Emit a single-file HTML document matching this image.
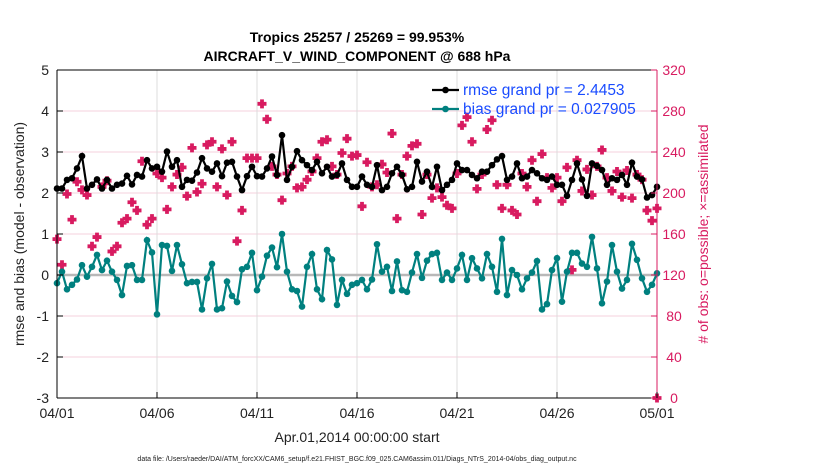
<!DOCTYPE html>
<html><head><meta charset="utf-8"><style>
body{margin:0;background:#fff;width:830px;height:470px;overflow:hidden;font-family:"Liberation Sans",sans-serif}
</style></head><body>
<svg id="chart" width="830" height="470" xmlns="http://www.w3.org/2000/svg" font-family="Liberation Sans, sans-serif"></svg>
<script>
const xTickLabels=["04/01","04/06","04/11","04/16","04/21","04/26","05/01"];
const yLeftTicks=[5,4,3,2,1,0,-1,-2,-3];
const yRightTicks=[0,40,80,120,160,200,240,280,320];
const rmse=[2.11,2.11,2.32,2.36,2.60,2.90,2.11,2.20,2.33,2.11,2.32,2.11,2.20,2.23,2.42,2.21,2.44,2.40,2.80,2.60,2.64,2.52,3.01,2.64,2.80,2.15,2.32,2.30,2.50,2.85,2.60,2.52,2.72,2.41,2.74,2.76,2.40,2.07,2.41,2.64,2.41,2.40,2.60,2.89,2.44,3.41,2.32,2.64,3.02,2.80,2.68,2.56,2.76,2.48,2.64,2.40,2.44,2.72,2.32,2.15,
2.15,2.40,2.20,2.15,2.68,2.07,2.15,2.48,2.64,2.44,2.09,2.15,2.76,2.28,2.52,2.15,2.64,2.07,2.20,2.32,2.72,2.56,2.56,2.44,2.36,2.52,2.52,2.68,2.82,2.90,2.32,2.40,2.72,2.36,2.40,2.56,2.48,2.36,2.32,2.40,2.20,2.20,1.93,2.32,2.72,2.33,1.93,2.72,2.66,2.56,2.20,2.36,2.32,2.44,2.20,2.74,2.40,2.33,1.89,1.95,2.15];
const bias=[-0.20,0.08,-0.35,-0.24,-0.11,0.24,-0.04,0.20,0.49,0.12,0.35,0.08,-0.12,-0.49,0.22,0.24,-0.12,-0.12,0.85,0.55,-0.96,0.73,0.71,0.10,0.73,0.26,-0.20,-0.17,-0.17,-0.84,-0.08,0.27,-0.84,-0.81,-0.16,-0.51,-0.66,0.14,0.20,0.54,-0.37,-0.04,0.47,0.67,0.19,1.00,0.08,-0.35,-0.39,-0.77,0.20,0.51,-0.35,-0.59,0.61,0.38,-0.73,-0.12,-0.46,-0.24,
-0.20,-0.12,-0.35,-0.11,0.75,0.08,0.20,-0.39,0.33,-0.37,-0.41,0.06,0.51,-0.07,0.35,0.51,0.54,-0.12,0.06,-0.12,0.16,0.49,-0.12,0.41,0.16,-0.08,0.51,0.20,-0.41,0.88,-0.49,0.12,0.00,-0.35,-0.08,0.06,0.34,-0.84,-0.71,0.12,0.41,-0.65,0.08,0.54,0.54,0.28,0.20,0.93,0.16,-0.69,-0.16,0.73,0.08,-0.33,-0.12,0.76,0.37,-0.08,-0.41,-0.24,0.04];
const obsCount=[155,130,199,174,211,203,198,148,157,206,212,143,148,171,175,191,183,231,169,175,219,215,184,206,218,225,197,244,201,209,247,250,206,243,198,250,153,183,234,234,234,287,272,226,218,193,219,226,205,206,213,221,234,250,252,226,218,239,253,236,
237,187,230,206,208,228,220,258,175,218,236,246,248,179,218,195,205,196,188,185,219,266,274,250,204,218,262,271,208,185,208,183,179,219,206,232,192,238,215,205,215,192,225,125,232,202,223,198,226,242,215,202,221,196,222,195,218,213,183,173,185];
const obsEnd=[0];

const NS="http://www.w3.org/2000/svg";
const svg=document.getElementById('chart');
const L=57,R=657,T=70,B=398;
const xDay=d=>L+(R-L)*d/30;
const yL=v=>T+(5-v)*(B-T)/8;
const yR=v=>B-v*(B-T)/320;
function mk(tag,attrs,parent){const e=document.createElementNS(NS,tag);for(const k in attrs)e.setAttribute(k,attrs[k]);(parent||svg).appendChild(e);return e;}
function txt(s,attrs){const e=mk('text',attrs);e.textContent=s;return e;}

yLeftTicks.forEach(v=>{const g=mk('line',{x1:L,x2:R,y1:yL(v),y2:yL(v),stroke:'#f5d0de','stroke-width':1});

});
xTickLabels.forEach((s,i)=>{const g=mk('line',{x1:xDay(i*5),x2:xDay(i*5),y1:T,y2:B,stroke:'#dcdcdc','stroke-width':1});

});
const zl=mk('line',{x1:L,x2:R,y1:yL(0),y2:yL(0),stroke:'#b8b8b8','stroke-width':2.5});



function plus(x,y,name){const s=4.5,w=1.9;const p=mk('path',{d:`M${x-s} ${y-w}L${x-w} ${y-w}L${x-w} ${y-s}L${x+w} ${y-s}L${x+w} ${y-w}L${x+s} ${y-w}L${x+s} ${y+w}L${x+w} ${y+w}L${x+w} ${y+s}L${x-w} ${y+s}L${x-w} ${y+w}L${x-s} ${y+w}Z`,fill:'#d81b60'});

}
obsCount.forEach((v,i)=>plus(xDay(i*0.25),yR(v),'obs-marker'));
obsEnd.forEach(v=>plus(R,yR(v),'obs-end-marker'));

function series(arr,color,name){
 const pts=arr.map((v,i)=>`${xDay(i*0.25).toFixed(1)},${yL(v).toFixed(1)}`).join(' ');
 const pl=mk('polyline',{points:pts,fill:'none',stroke:color,'stroke-width':2.2});
 
 
 arr.forEach((v,i)=>{const c=mk('circle',{cx:xDay(i*0.25),cy:yL(v),r:3.3,fill:color});
 
 });
}
series(rmse,'#000','rmse');
series(bias,'#00807f','bias');

const ax=mk('g',{});


mk('line',{x1:L,x2:L,y1:T,y2:B,stroke:'#000','stroke-width':1},ax);
mk('line',{x1:L,x2:R,y1:B,y2:B,stroke:'#000','stroke-width':1},ax);
mk('line',{x1:L,x2:R,y1:T,y2:T,stroke:'#000','stroke-width':1},ax);
mk('line',{x1:R,x2:R,y1:T,y2:B,stroke:'#d81b60','stroke-width':1},ax);
yLeftTicks.forEach(v=>{mk('line',{x1:L,x2:L+6,y1:yL(v),y2:yL(v),stroke:'#000'},ax);
 const t=txt(String(v),{x:L-8,y:yL(v)+5,'text-anchor':'end','font-size':14,fill:'#222'});
 
 });
yRightTicks.forEach(v=>{mk('line',{x1:R-6,x2:R,y1:yR(v),y2:yR(v),stroke:'#d81b60'},ax);
 const t=txt(String(v),{x:674,y:yR(v)+5,'text-anchor':'middle','font-size':14,fill:'#d81b60'});
 
 });
xTickLabels.forEach((s,i)=>{mk('line',{x1:xDay(i*5),x2:xDay(i*5),y1:B-6,y2:B,stroke:'#000'},ax);
 const t=txt(s,{x:xDay(i*5),y:B+20,'text-anchor':'middle','font-size':14,fill:'#222'});
 
 });

let t;
t=txt('Tropics 25257 / 25269 = 99.953%',{x:357,y:42,'text-anchor':'middle','font-size':14,'font-weight':'bold'});

t=txt('AIRCRAFT_V_WIND_COMPONENT @ 688 hPa',{x:357,y:61,'text-anchor':'middle','font-size':14,'font-weight':'bold'});

t=txt('rmse and bias (model - observation)',{x:0,y:0,'text-anchor':'middle','font-size':14,fill:'#222',transform:`translate(24 ${(T+B)/2}) rotate(-90)`});

t=txt('# of obs: o=possible; \u00d7=assimilated',{x:0,y:0,'text-anchor':'middle','font-size':14,fill:'#d81b60',transform:`translate(708 ${(T+B)/2}) rotate(-90)`});

t=txt('Apr.01,2014 00:00:00 start',{x:357,y:442,'text-anchor':'middle','font-size':14,fill:'#222'});

t=txt('data file: /Users/raeder/DAI/ATM_forcXX/CAM6_setup/f.e21.FHIST_BGC.f09_025.CAM6assim.011/Diags_NTrS_2014-04/obs_diag_output.nc',{x:357,y:461,'text-anchor':'middle','font-size':7,fill:'#222'});


const lg=mk('g',{});


[['rmse grand pr = 2.4453','#000',90],['bias grand pr = 0.027905','#00807f',109]].forEach(([s,c,y])=>{
 mk('line',{x1:432,x2:459,y1:y,y2:y,stroke:c,'stroke-width':2.2},lg);
 mk('circle',{cx:445.5,cy:y,r:3.3,fill:c},lg);
 const e=document.createElementNS(NS,'text');e.setAttribute('x',463);e.setAttribute('y',y+5);e.setAttribute('font-size',15.5);e.setAttribute('fill','#1a4cff');e.textContent=s;lg.appendChild(e);
 
 
});
</script>
</body></html>
